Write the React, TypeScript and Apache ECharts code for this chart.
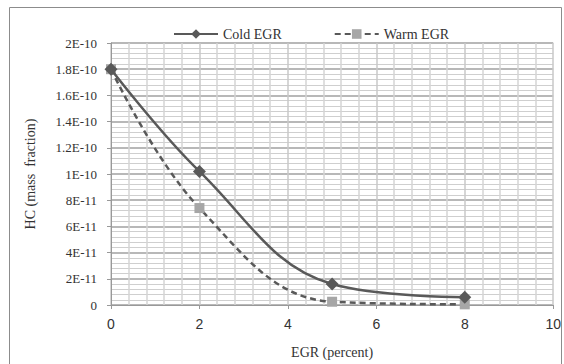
import React, { useEffect, useRef } from "react";
import * as echarts from "echarts";

const egr = [0, 2, 5, 8];
const coldEGR = [1.8e-10, 1.02e-10, 1.6e-11, 6e-12];
const warmEGR = [1.8e-10, 7.4e-11, 2.5e-12, 0.5e-12];
const yTickValues = [0, 2e-11, 4e-11, 6e-11, 8e-11, 1e-10, 1.2e-10, 1.4e-10, 1.6e-10, 1.8e-10, 2e-10];
const yTickLabels = ["0", "2E-11", "4E-11", "6E-11", "8E-11", "1E-10", "1.2E-10", "1.4E-10", "1.6E-10", "1.8E-10", "2E-10"];

const serif = "'Liberation Serif', 'DejaVu Serif', serif";
const sans = "'Liberation Sans', Arial, sans-serif";

export default function App() {
  const ref = useRef<HTMLDivElement>(null);
  useEffect(() => {
    if (!ref.current) return;
    const chart = echarts.init(ref.current, null, { renderer: "svg" });
    const fmtY = (v: number) => {
      let best = 0;
      for (let i = 0; i < yTickValues.length; i++) {
        if (Math.abs(yTickValues[i] - v) < Math.abs(yTickValues[best] - v)) best = i;
      }
      return yTickLabels[best];
    };
    chart.setOption({
      animation: false,
      backgroundColor: "#ffffff",
      graphic: [
        {
          type: "rect",
          shape: { x: 9.5, y: 7.5, width: 552, height: 360 },
          style: { fill: "none", stroke: "#8c8c8c", lineWidth: 1 },
          silent: true,
        },
      ],
      legend: {
        top: 22,
        left: 168,
        itemWidth: 44,
        itemHeight: 12,
        itemGap: 52,
        textStyle: { fontFamily: serif, fontSize: 14, color: "#333" },
        data: [{ name: "Cold EGR" }, { name: "Warm EGR" }],
      },
      grid: { left: 111, right: 8, top: 43, bottom: 58 },
      xAxis: {
        type: "value",
        min: 0,
        max: 10,
        interval: 2,
        name: "EGR (percent)",
        nameLocation: "middle",
        nameGap: 40,
        nameTextStyle: { fontFamily: serif, fontSize: 14, color: "#333" },
        axisLine: { show: true, lineStyle: { color: "#999", width: 1 } },
        axisTick: { show: true, length: 4, lineStyle: { color: "#999" } },
        axisLabel: { fontFamily: sans, fontSize: 14, color: "#333", margin: 12 },
        splitLine: { show: true, lineStyle: { color: "#c8c8c8", width: 1.5 } },
        minorSplitLine: { show: true, lineStyle: { color: "#d4d4d4", width: 1.5 } },
        minorTick: { show: false, splitNumber: 5 },
      },
      yAxis: {
        type: "value",
        min: 0,
        max: 2e-10,
        interval: 2e-11,
        name: "HC (mass  fraction)",
        nameLocation: "middle",
        nameGap: 74,
        nameTextStyle: { fontFamily: serif, fontSize: 14, color: "#333" },
        axisLine: { show: true, lineStyle: { color: "#999", width: 1 } },
        axisTick: { show: true, length: 4, inside: false, lineStyle: { color: "#999" } },
        axisLabel: { fontFamily: serif, fontSize: 13, color: "#333", margin: 14, formatter: fmtY },
        splitLine: { show: true, lineStyle: { color: "#a0a0a0", width: 1.5 } },
        minorSplitLine: { show: true, lineStyle: { color: "#cfcfcf", width: 1 } },
        minorTick: { show: false, splitNumber: 5 },
      },
      series: [
        {
          name: "Cold EGR",
          type: "line",
          smooth: 0.4,
          data: egr.map((x, i) => [x, coldEGR[i]]),
          symbol: "diamond",
          symbolSize: 13,
          lineStyle: { color: "#595959", width: 2.5 },
          itemStyle: { color: "#595959" },
          z: 3,
        },
        {
          name: "Warm EGR",
          type: "line",
          smooth: 0.4,
          data: egr.map((x, i) => [x, warmEGR[i]]),
          symbol: "rect",
          symbolSize: 10,
          lineStyle: { color: "#595959", width: 2.5, type: [6, 4] },
          itemStyle: { color: "#a6a6a6" },
          z: 2,
        },
      ],
    });
    return () => chart.dispose();
  }, []);
  return (
    <div
      ref={ref}
      style={{ position: "absolute", left: 0, top: 0, width: 564, height: 364 }}
    />
  );
}
